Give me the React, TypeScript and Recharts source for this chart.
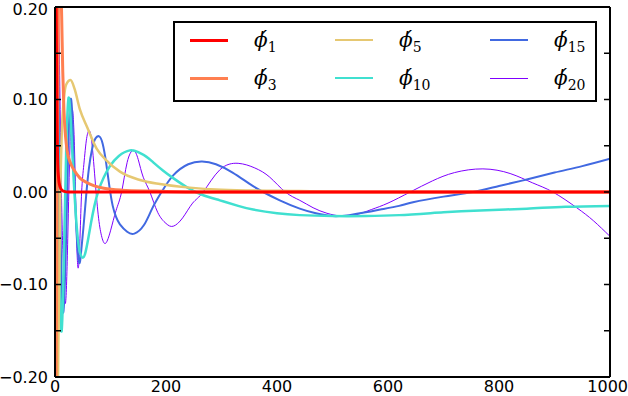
import { LineChart, Line, XAxis, YAxis } from 'recharts';

type Pt = [number, number];

// values, [x, y]
const phi1: Pt[] = [
  [0, 0.5], [2, 0.2], [3.5, 0.08], [5, 0.03], [6.5, 0.015], [8, 0.008], [11, 0.003],
  [15, 0.001], [25, 0], [1000, 0],
];
const phi3: Pt[] = [
  [0, -0.4], [3, -0.1], [5, 0.1], [7, 0.25], [10, 0.24], [12, 0.19], [14, 0.13], [16, 0.09],
  [19, 0.06], [22, 0.044], [28, 0.031], [34, 0.024], [45, 0.015], [58, 0.01], [88, 0.004],
  [120, 0.002], [180, 0.001], [260, 0], [1000, 0],
];
const phi5: Pt[] = [
  [0, -0.8], [4, -0.3], [6, -0.17], [9, -0.02], [12, 0.06], [16, 0.1], [20, 0.116], [28, 0.121],
  [35, 0.112], [45, 0.089], [58, 0.07], [75, 0.047], [93, 0.034], [117, 0.022], [153, 0.013],
  [189, 0.0086], [238, 0.005], [300, 0.0025], [440, 0.001], [600, 0], [1000, 0],
];
const phi10: Pt[] = [
  [0, 0.3], [4, 0.16], [8, -0.07], [12, -0.15], [16, -0.07], [20, 0.04], [24, 0.1], [28, 0.08],
  [34, 0.01], [42, -0.055], [50, -0.071], [55, -0.065], [60, -0.05], [65, -0.033], [71, -0.015],
  [78, 0.001], [88, 0.016], [99, 0.028], [115, 0.039], [135, 0.045], [150, 0.043], [165, 0.038],
  [177, 0.032], [195, 0.023], [213, 0.015], [238, 0.005], [265, -0.003], [297, -0.009],
  [330, -0.015], [357, -0.019], [400, -0.023], [441, -0.025], [500, -0.026], [560, -0.026],
  [620, -0.025], [700, -0.022], [766, -0.02], [850, -0.018], [920, -0.016], [1000, -0.015],
];
const phi15: Pt[] = [
  [0, 0.25], [5, 0.18], [10, -0.04], [15, -0.13], [20, -0.05], [24, 0.05], [28, 0.1], [32, 0.07],
  [37, -0.02], [43, -0.075], [47, -0.065], [51, -0.04], [56, -0.005], [61, 0.025], [67, 0.047],
  [73, 0.058], [80, 0.06], [86, 0.052], [92, 0.032], [98, 0.006], [104, -0.015], [110, -0.027],
  [117, -0.035], [130, -0.043], [143, -0.045], [160, -0.036], [175, -0.018], [192, 0],
  [213, 0.018], [240, 0.03], [265, 0.033], [290, 0.03], [320, 0.021], [350, 0.009], [375, 0],
  [405, -0.009], [441, -0.018], [470, -0.023], [500, -0.026], [530, -0.025], [560, -0.022],
  [586, -0.019], [620, -0.015], [645, -0.011], [700, -0.005], [753, 0], [800, 0.0065],
  [850, 0.0135], [900, 0.021], [950, 0.028], [1000, 0.036],
];
const phi20: Pt[] = [
  [0, 0.25], [6, 0.2], [11, 0.02], [15, -0.08], [19, -0.12], [23, -0.05], [27, 0.05], [31, 0.09],
  [35, 0.05], [38, -0.03], [41.5, -0.082], [45, -0.05], [48, 0], [52, 0.03], [57, 0.058],
  [62, 0.066], [67, 0.05], [74, 0], [80, -0.035], [86, -0.052], [92, -0.055], [100, -0.042],
  [110, -0.02], [120, 0], [130, 0.032], [141, 0.045], [150, 0.035], [159, 0.016], [171, 0],
  [185, -0.022], [200, -0.034], [213, -0.037], [230, -0.028], [248, -0.012], [267, 0],
  [297, 0.024], [330, 0.031], [360, 0.026], [387, 0.016], [415, 0], [441, -0.009],
  [465, -0.017], [490, -0.023], [515, -0.026], [540, -0.025], [570, -0.019], [600, -0.012],
  [640, 0], [680, 0.012], [720, 0.021], [771, 0.025], [820, 0.02], [860, 0.01], [897, 0],
  [940, -0.017], [970, -0.031], [1000, -0.048],
];

const xTicks = [0, 200, 400, 600, 800, 1000];
const yLabelTicks = [-0.2, -0.1, 0, 0.1, 0.2];
const yMarkTicks = [-0.2, -0.15, -0.1, -0.05, 0, 0.05, 0.1, 0.15, 0.2];

// legend order (column by column, as in the reference)
const series = [
  { sub: '1', data: phi1, color: '#ff0000', width: 3, curve: 'monotone' },
  { sub: '3', data: phi3, color: '#ff7f50', width: 3, curve: 'monotone' },
  { sub: '5', data: phi5, color: '#e6c872', width: 2.5, curve: 'monotone' },
  { sub: '10', data: phi10, color: '#40e0d0', width: 2.5, curve: 'natural' },
  { sub: '15', data: phi15, color: '#4169e1', width: 2, curve: 'natural' },
  { sub: '20', data: phi20, color: '#7f00ff', width: 1, curve: 'natural' },
] as const;

const toRows = (pts: readonly Pt[]) => pts.map(([x, y]) => ({ x, y }));
const fmt = (v: number) => v.toFixed(2).replace('-', '\u2212');

const frame = { stroke: '#000', strokeWidth: 2 };
const tickMark = { stroke: '#000', strokeWidth: 1.5 };
const font = { fill: '#000', fontSize: 16, fontFamily: 'DejaVu Sans' };
const noLabel = () => <g />;

// keep the corner labels inside the picture
function XTick({ x, y, payload }: any) {
  const last = payload.value === 1000;
  return (
    <text x={x} y={y} dy="0.71em" textAnchor={last ? 'end' : 'middle'} dx={last ? 18 : 0} {...font}>
      {payload.value}
    </text>
  );
}
function YTick({ x, y, payload }: any) {
  const top = payload.value === 0.2;
  return (
    <text x={x} y={y + (top ? 2 : 0)} dy="0.355em" textAnchor="end" {...font}>
      {fmt(payload.value)}
    </text>
  );
}

function Legend() {
  const colLeft = [15, 160, 315];
  return (
    <div
      style={{
        position: 'absolute',
        left: 173,
        top: 21,
        width: 420,
        height: 77,
        border: '2px solid #000',
        background: '#fff',
      }}
    >
      {series.map((s, i) => {
        const col = Math.floor(i / 2);
        const row = i % 2;
        return (
          <div
            key={s.sub}
            style={{
              position: 'absolute',
              left: colLeft[col],
              top: row === 0 ? 16 : 54,
              display: 'flex',
              alignItems: 'center',
              height: 2,
            }}
          >
            <div style={{ width: 38, height: s.width, background: s.color }} />
            <div
              style={{
                marginLeft: 26,
                fontFamily: 'DejaVu Serif',
                fontSize: 20,
                whiteSpace: 'nowrap',
                lineHeight: 1,
              }}
            >
              <span style={{ fontStyle: 'italic' }}>{'\u03d5\u0301'}</span>
              <span style={{ fontSize: 14, position: 'relative', top: 5 }}>{s.sub}</span>
            </div>
          </div>
        );
      })}
    </div>
  );
}

export default function App() {
  const drawOrder = [...series].reverse();
  return (
    <div style={{ position: 'absolute', left: 0, top: 0, width: 628, height: 396, background: '#fff' }}>
      <LineChart width={628} height={396} margin={{ top: 7, right: 18, bottom: 0, left: 0 }}>
        <XAxis
          xAxisId="b"
          dataKey="x"
          type="number"
          domain={[0, 1000]}
          ticks={xTicks}
          interval={0}
          allowDataOverflow
          height={19}
          tickSize={0}
          tickMargin={4}
          tickLine={false}
          axisLine={frame}
          tick={XTick}
        />
        <XAxis
          xAxisId="bm"
          orientation="bottom"
          mirror
          type="number"
          domain={[0, 1000]}
          ticks={xTicks}
          interval={0}
          allowDataOverflow
          tickSize={6}
          tick={noLabel}
          tickLine={tickMark}
          axisLine={frame}
        />
        <XAxis
          xAxisId="t"
          orientation="top"
          mirror
          type="number"
          domain={[0, 1000]}
          ticks={xTicks}
          interval={0}
          allowDataOverflow
          tickSize={6}
          tick={noLabel}
          tickLine={tickMark}
          axisLine={frame}
        />
        <YAxis
          yAxisId="l"
          type="number"
          domain={[-0.2, 0.2]}
          ticks={yLabelTicks}
          interval={0}
          allowDataOverflow
          width={55}
          tickSize={0}
          tickMargin={7}
          tickLine={false}
          axisLine={frame}
          tick={YTick}
        />
        <YAxis
          yAxisId="lm"
          orientation="left"
          mirror
          type="number"
          domain={[-0.2, 0.2]}
          ticks={yMarkTicks}
          interval={0}
          allowDataOverflow
          tickSize={6}
          tick={noLabel}
          tickLine={tickMark}
          axisLine={frame}
        />
        <YAxis
          yAxisId="r"
          orientation="right"
          mirror
          type="number"
          domain={[-0.2, 0.2]}
          ticks={yMarkTicks}
          interval={0}
          allowDataOverflow
          tickSize={6}
          tick={noLabel}
          tickLine={tickMark}
          axisLine={frame}
        />
        {drawOrder.map((s) => (
          <Line
            key={s.sub}
            data={toRows(s.data)}
            dataKey="y"
            xAxisId="b"
            yAxisId="l"
            type={s.curve}
            stroke={s.color}
            strokeWidth={s.width}
            dot={false}
            activeDot={false}
            isAnimationActive={false}
          />
        ))}
      </LineChart>
      <Legend />
    </div>
  );
}
